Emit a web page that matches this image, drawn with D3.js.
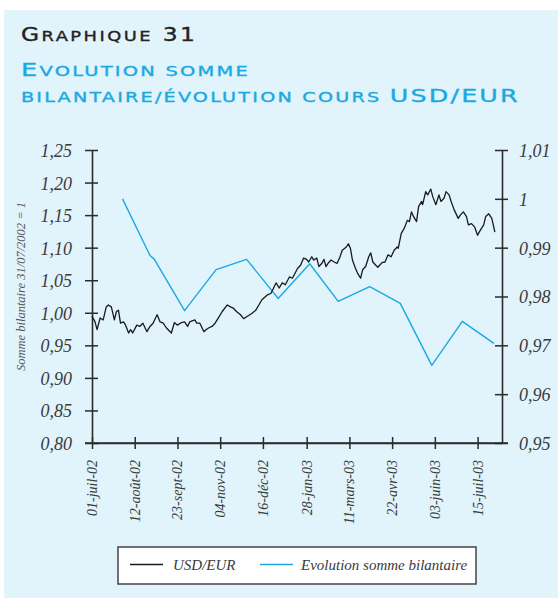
<!DOCTYPE html>
<html><head><meta charset="utf-8">
<script src="https://cdn.jsdelivr.net/npm/d3@7"></script>
<style>
html,body{margin:0;padding:0;background:#fff;}
svg{display:block;}
</style></head>
<body>
<svg id="chart" width="558" height="598"></svg>
<script>
// ---------- DATA ----------
const usdStart = "2002-07-01";
// days since 01-jul-02
const usdDays = [0,3,5,8,11,14,16,19,22,24,26,28,31,33,36,38,40,44,47,50,54,57,60,64,67,70,73,78,81,84,88,91,94,96,101,103,106,110,112,115,118,121,125,128,133,136,139,142,146,149,152,157,161,164,167,172,176,181,184,187,190,194,197,202,205,208,211,213,216,218,221,223,226,228,230,232,235,238,241,244,246,250,252,254,256,259,261,264,266,269,272,274,276,279,281,285,288,291,294,297,300,301,304,307,310,312,314,316,319,321,324,325,328,330,333,335,338,341,343,346,348,351,353,356,360,362,365,368,370,373,376,379,381,385,387,390,393,396];
const usdRate = [0.995,0.986,0.974,0.992,0.989,1.009,1.012,1.009,0.989,1.002,1.004,0.984,0.986,0.981,0.969,0.974,0.969,0.981,0.979,0.984,0.971,0.979,0.984,0.997,0.986,0.984,0.977,0.969,0.985,0.981,0.985,0.986,0.979,0.986,0.989,0.984,0.984,0.971,0.974,0.977,0.979,0.984,0.994,1.002,1.012,1.009,1.007,1.002,0.997,0.991,0.994,0.999,1.004,1.012,1.020,1.027,1.030,1.046,1.038,1.046,1.043,1.055,1.053,1.068,1.073,1.084,1.082,1.078,1.086,1.081,1.084,1.071,1.076,1.082,1.071,1.076,1.081,1.078,1.076,1.087,1.096,1.101,1.106,1.099,1.081,1.068,1.061,1.053,1.066,1.071,1.086,1.092,1.078,1.073,1.070,1.077,1.078,1.089,1.086,1.096,1.101,1.099,1.122,1.130,1.142,1.140,1.155,1.148,1.140,1.163,1.171,1.166,1.186,1.181,1.190,1.178,1.166,1.181,1.171,1.176,1.186,1.181,1.171,1.158,1.145,1.150,1.155,1.148,1.135,1.137,1.132,1.119,1.125,1.135,1.148,1.152,1.145,1.124];

const bilanDates = ["2002-07-31","2002-08-27","2002-08-31","2002-09-30","2002-10-31","2002-11-30","2002-12-31","2003-01-31","2003-02-28","2003-03-31","2003-04-30","2003-05-31","2003-06-30","2003-07-31"];
const bilanValues = [1.000,0.9884,0.9877,0.9771,0.9855,0.9876,0.9796,0.9867,0.9790,0.9820,0.9786,0.9659,0.9749,0.9704];

const xTickDates = ["2002-07-01","2002-08-12","2002-09-23","2002-11-04","2002-12-16","2003-01-28","2003-03-11","2003-04-22","2003-06-03","2003-07-15"];
const xTickLabels = ["01-juil-02","12-août-02","23-sept-02","04-nov-02","16-déc-02","28-jan-03","11-mars-03","22-avr-03","03-juin-03","15-juil-03"];
const leftTicks = [0.80,0.85,0.90,0.95,1.00,1.05,1.10,1.15,1.20,1.25];
const leftTickLabels = ["0,80","0,85","0,90","0,95","1,00","1,05","1,10","1,15","1,20","1,25"];
const rightTicks = [0.95,0.96,0.97,0.98,0.99,1.00,1.01];
const rightTickLabels = ["0,95","0,96","0,97","0,98","0,99","1","1,01"];
const xDomainEnd = "2003-08-08";

// ---------- DRAW ----------
const parse = d3.timeParse("%Y-%m-%d");
const svg = d3.select("#chart");
const BLUE = "#1ba9e2", INK = "#2b2b2b";

svg.append("rect").attr("x",4).attr("y",10).attr("width",554).attr("height",588).attr("fill","#e1f3fb");

const L = 92, R = 502, T = 150, B = 443;
const x = d3.scaleTime().domain([parse(usdStart), parse(xDomainEnd)]).range([L, R]);
const yL = d3.scaleLinear().domain([0.80,1.25]).range([B,T]);
const yR = d3.scaleLinear().domain([0.95,1.01]).range([B,T]);

// titles (wide small-caps look: fixed tracking then horizontal stretch to width)
const titleFont = "'DejaVu Sans', Verdana, sans-serif";
function titleLine(y, parts, color, target, spacing){
  const g = svg.append("g");
  const t = g.append("text").attr("x",0).attr("y",y).attr("fill",color)
    .style("font-family",titleFont).style("letter-spacing",spacing+"px")
    .attr("stroke",color).attr("stroke-width",0.35);
  parts.forEach(p => t.append("tspan").attr("font-size",p[1]).text(p[0]));
  const w = t.node().getComputedTextLength() - spacing;
  g.attr("transform",`translate(21,0) scale(${target/w},1)`);
}
titleLine(41.5, [["G",19],["RAPHIQUE",14.5],[" 31",19]], "#222", 174, 2);
titleLine(76.5, [["E",18.5],["VOLUTION SOMME",14]], BLUE, 227, 1.6);
titleLine(102.5, [["BILANTAIRE/ÉVOLUTION COURS ",14],["USD/EUR",18.5]], BLUE, 497, 1.6);

const serif = "'Liberation Serif','Times New Roman',serif";

// left axis
const gL = svg.append("g").attr("transform",`translate(${L},0)`)
  .call(d3.axisLeft(yL).tickValues(leftTicks).tickFormat((d,i)=>leftTickLabels[i]).tickSizeInner(7).tickSizeOuter(0).tickPadding(13));
gL.selectAll(".tick line").attr("x1",6);
// right axis
const gR = svg.append("g").attr("transform",`translate(${R},0)`)
  .call(d3.axisRight(yR).tickValues(rightTicks).tickFormat((d,i)=>rightTickLabels[i]).tickSizeInner(6).tickSizeOuter(0).tickPadding(11));
gR.selectAll(".tick line").attr("x1",-7);
// x axis
const gX = svg.append("g").attr("transform",`translate(0,${B})`)
  .call(d3.axisBottom(x).tickValues(xTickDates.map(parse)).tickFormat((d,i)=>xTickLabels[i]).tickSizeInner(6).tickSizeOuter(0));
gX.selectAll(".tick line").attr("y1",-6);
gX.selectAll(".tick text")
  .attr("transform","rotate(-90)").attr("text-anchor","end")
  .attr("x",-17).attr("y",4.5).attr("dy","0")
  .style("font-size","14px");

[gL,gR,gX].forEach(g=>{
  g.select(".domain").attr("stroke",INK).attr("stroke-width",1.6);
  g.selectAll(".tick line").attr("stroke",INK).attr("stroke-width",1.5);
  g.selectAll(".tick text").attr("fill","#3a3a3a").style("font-family",serif).style("font-style","italic");
});
gL.selectAll(".tick text").style("font-size","18px").attr("dy","0.36em");
gR.selectAll(".tick text").style("font-size","18px").attr("dy","0.36em");
svg.append("line").attr("x1",L-7).attr("x2",R+6).attr("y1",B).attr("y2",B).attr("stroke",INK).attr("stroke-width",1.6);

// y title
svg.append("text").attr("transform",`translate(25,${(T+B)/2 - 10}) rotate(-90)`)
  .attr("text-anchor","middle").attr("fill","#555")
  .style("font-family",serif).style("font-style","italic").style("font-size","12.5px")
  .text("Somme bilantaire 31/07/2002 = 1");

// lines
const t0 = parse(usdStart);
const usdData = usdDays.map((d,i)=>({date:d3.timeDay.offset(t0,d), v:usdRate[i]}));
const bilanData = bilanDates.map((d,i)=>({date:parse(d), v:bilanValues[i]}));

svg.append("path").datum(bilanData)
  .attr("fill","none").attr("stroke",BLUE).attr("stroke-width",1.4).attr("stroke-linejoin","round")
  .attr("d", d3.line().x(d=>x(d.date)).y(d=>yR(d.v)));
svg.append("path").datum(usdData)
  .attr("fill","none").attr("stroke","#1a1a1a").attr("stroke-width",1.3).attr("stroke-linejoin","round")
  .attr("d", d3.line().x(d=>x(d.date)).y(d=>yL(d.v)));

// legend
const lg = svg.append("g");
lg.append("rect").attr("x",118).attr("y",547).attr("width",358).attr("height",37)
  .attr("fill","#fff").attr("stroke","#444").attr("stroke-width",1.5);
const legendItems = [
  {label:"USD/EUR", color:"#1a1a1a", x0:130, x1:163, tx:173},
  {label:"Evolution somme bilantaire", color:BLUE, x0:260, x1:293, tx:301}
];
legendItems.forEach(it=>{
  lg.append("line").attr("x1",it.x0).attr("x2",it.x1).attr("y1",564.5).attr("y2",564.5)
    .attr("stroke",it.color).attr("stroke-width",1.4);
  lg.append("text").attr("x",it.tx).attr("y",569.5).attr("fill","#3a3a3a")
    .style("font-family",serif).style("font-style","italic").style("font-size","15px")
    .text(it.label);
});
</script>
</body></html>
